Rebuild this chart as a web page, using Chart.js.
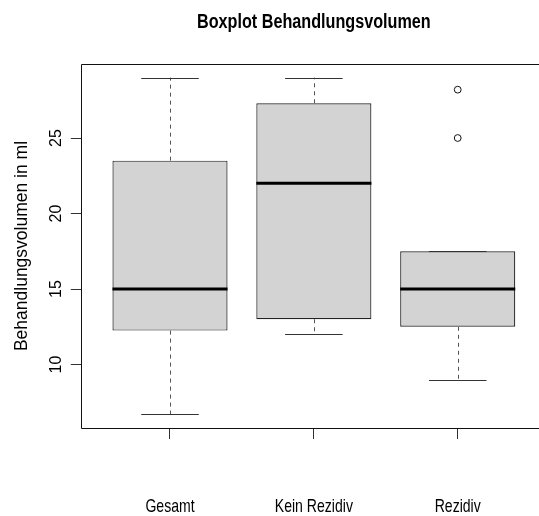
<!DOCTYPE html>
<html><head><meta charset="utf-8">
<script src="https://cdn.jsdelivr.net/npm/chart.js@4.4.1/dist/chart.umd.min.js"></script>
<style>html,body{margin:0;padding:0;background:#fff;overflow:hidden}#wrap{position:relative;width:539px;height:516px}canvas{display:block}</style>
</head><body><div id="wrap"><canvas id="c" width="539" height="516"></canvas></div>
<script>
const chartTitle = 'Boxplot Behandlungsvolumen';
const yAxisTitle = 'Behandlungsvolumen in ml';
const categories = ['Gesamt', 'Kein Rezidiv', 'Rezidiv'];
const whiskerLow = [6.7, 12, 9];
const q1 = [12.25, 13, 12.5];
const median = [15, 22, 15];
const q3 = [23.5, 27.3, 17.5];
const whiskerHigh = [29, 29, 17.5];
const outlierGroup = [3, 3];
const outlierValue = [25, 28.2];
const yTicks = [10, 15, 20, 25];
const yRange = [5.8, 29.9];
const xRange = [0.38, 3.565];

const FAMILY = '"Liberation Sans", Arial, Helvetica, sans-serif';

function condensed(ctx, text, cx, base, font, sx) {
  ctx.save();
  ctx.font = font;
  ctx.fillStyle = '#000';
  ctx.textAlign = 'center';
  ctx.textBaseline = 'alphabetic';
  ctx.translate(cx, base);
  ctx.scale(sx, 1);
  ctx.fillText(text, 0, 0);
  ctx.restore();
}
function rotated(ctx, text, bx, cy, font) {
  ctx.save();
  ctx.font = font;
  ctx.fillStyle = '#000';
  ctx.textAlign = 'center';
  ctx.textBaseline = 'alphabetic';
  ctx.translate(bx, cy);
  ctx.rotate(-Math.PI / 2);
  ctx.fillText(text, 0, 0);
  ctx.restore();
}
const h = v => Math.round(v) + 0.5;

const rPlot = {
  id: 'rplot',
  afterDatasetsDraw(chart) {
    const { ctx, chartArea: a, scales: { x, y } } = chart;
    ctx.save();
    categories.forEach((c, i) => {
      const cx = h(x.getPixelForValue(i + 1));
      const capL = x.getPixelForValue(i + 1 - 0.2), capR = x.getPixelForValue(i + 1 + 0.2);
      const boxL = x.getPixelForValue(i + 1 - 0.4), boxR = x.getPixelForValue(i + 1 + 0.4);
      // whiskers (dashed)
      ctx.strokeStyle = '#555';
      ctx.lineWidth = 1;
      ctx.setLineDash([4, 4]);
      ctx.beginPath();
      ctx.moveTo(cx, y.getPixelForValue(q3[i]));
      ctx.lineTo(cx, y.getPixelForValue(whiskerHigh[i]));
      ctx.moveTo(cx, y.getPixelForValue(q1[i]));
      ctx.lineTo(cx, y.getPixelForValue(whiskerLow[i]));
      ctx.stroke();
      ctx.setLineDash([]);
      // caps
      ctx.strokeStyle = '#333';
      ctx.beginPath();
      const yh = h(y.getPixelForValue(whiskerHigh[i])), yl = h(y.getPixelForValue(whiskerLow[i]));
      ctx.moveTo(capL, yh); ctx.lineTo(capR, yh);
      ctx.moveTo(capL, yl); ctx.lineTo(capR, yl);
      ctx.stroke();
      // median
      ctx.strokeStyle = '#000';
      ctx.lineWidth = 3;
      const ym = y.getPixelForValue(median[i]);
      ctx.beginPath();
      ctx.moveTo(boxL, ym); ctx.lineTo(boxR, ym);
      ctx.stroke();
    });
    // frame
    ctx.strokeStyle = '#111';
    ctx.lineWidth = 1;
    const L = h(a.left), T = h(a.top), B = h(a.bottom), R = x.getPixelForValue(3.62);
    ctx.beginPath();
    ctx.moveTo(R, T); ctx.lineTo(L, T); ctx.lineTo(L, B); ctx.lineTo(R, B);
    ctx.stroke();
    // texts
    condensed(ctx, chartTitle, (a.left + R) / 2, 27.5, 'bold 19.5px ' + FAMILY, 0.83);
    categories.forEach((c, i) => {
      condensed(ctx, c, x.getPixelForValue(i + 1), 512, '18.5px ' + FAMILY, 0.76);
    });
    yTicks.forEach(v => rotated(ctx, String(v), 61, y.getPixelForValue(v), '16px ' + FAMILY));
    rotated(ctx, yAxisTitle, 27, (a.top + a.bottom) / 2, '17.5px ' + FAMILY);
    ctx.restore();
  }
};

new Chart(document.getElementById('c'), {
  type: 'bar',
  data: {
    datasets: [
      {
        type: 'bar',
        label: 'Box',
        data: categories.map((c, i) => ({ x: i + 1, y: [q1[i], q3[i]] })),
        backgroundColor: '#D3D3D3',
        borderColor: '#222',
        borderWidth: 1.2,
        borderSkipped: false,
        categoryPercentage: 0.8,
        barPercentage: 1
      },
      {
        type: 'scatter',
        label: 'Ausreißer',
        data: outlierValue.map((v, i) => ({ x: outlierGroup[i], y: v })),
        pointStyle: 'circle',
        pointRadius: 3.4,
        pointBorderWidth: 1,
        pointBorderColor: '#111',
        pointBackgroundColor: 'rgba(0,0,0,0)',
        showLine: false
      }
    ]
  },
  options: {
    responsive: false,
    animation: false,
    layout: { autoPadding: false, padding: { top: 64, left: 0, right: 0, bottom: 0 } },
    plugins: { legend: { display: false }, tooltip: { enabled: false }, title: { display: false } },
    scales: {
      x: {
        type: 'linear', min: xRange[0], max: xRange[1], offset: false,
        afterBuildTicks: s => { s.ticks = categories.map((c, i) => ({ value: i + 1 })); },
        ticks: { display: false },
        grid: { offset: false, drawOnChartArea: false, drawTicks: true, tickLength: 11, color: '#333', tickWidth: 1 },
        border: { display: false },
        afterFit: s => { s.height = 88; s.paddingLeft = 0; s.paddingRight = 0; }
      },
      y: {
        type: 'linear', min: yRange[0], max: yRange[1],
        afterBuildTicks: s => { s.ticks = yTicks.map(v => ({ value: v })); },
        ticks: { display: false },
        grid: { offset: false, drawOnChartArea: false, drawTicks: true, tickLength: 10, color: '#333', tickWidth: 1 },
        border: { display: false },
        afterFit: s => { s.width = 80.8; s.paddingTop = 0; s.paddingBottom = 0; }
      }
    }
  },
  plugins: [rPlot]
});
</script>
</body></html>
